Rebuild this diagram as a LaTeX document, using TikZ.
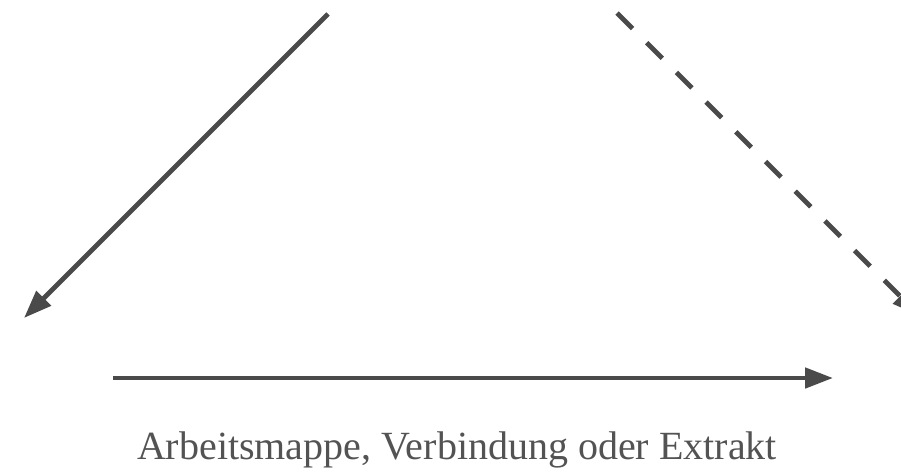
\documentclass[tikz,border=0pt]{standalone}
\usepackage{fontspec}
\setmainfont{Liberation Serif}
\usetikzlibrary{arrows.meta}
\definecolor{arrowgray}{HTML}{4A4A4A}
\begin{document}
\begin{tikzpicture}[x=1pt,y=-1pt, flow/.style={draw=arrowgray,line width=4.8pt,-{Triangle[length=28pt,width=20pt]}}, lbl/.style={font=\fontsize{40}{46}\selectfont,text=arrowgray!95}]
\useasboundingbox (0,0) rectangle (901,475);
\clip (0,0) rectangle (901,475);
\coordinate (srcL) at (328,14);
\coordinate (dstL) at (24,318);
\coordinate (srcR) at (617,13);
\coordinate (dstR) at (920,316);
\coordinate (srcB) at (113,378);
\coordinate (dstB) at (833,378);
\draw[flow] (srcL) -- (dstL);
\draw[flow,dash pattern=on 22pt off 20pt] (srcR) -- (dstR);
\draw[flow] (srcB) -- (dstB);
\node[lbl,anchor=base] (cap) at (457,459) {Arbeitsmappe, Verbindung oder Extrakt};
\end{tikzpicture}
\end{document}
